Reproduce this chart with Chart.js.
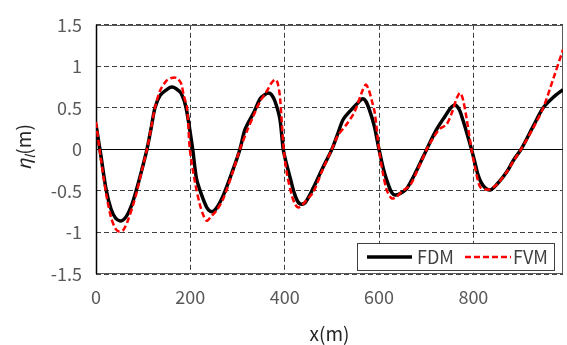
<!DOCTYPE html>
<html><head><meta charset="utf-8">
<script src="https://cdn.jsdelivr.net/npm/chart.js@4.4.1/dist/chart.umd.min.js"></script>
<style>html,body{margin:0;padding:0;background:#fff}#wrap{width:567px;height:345px;position:relative}</style>
</head><body><div id="wrap"><canvas id="c" width="567" height="345"></canvas></div>
<script>
const xFDM=[0,5,10,22,32,42,54,65,75,85,97,108,117,125,136,150,160,170,181,191,205,213,224,235,245,255,270,290,305,316,335,348,358,365,372,380,390,397,405,412,420,428,436,445,461,480,500,512,524,540,555,565,572,580,590,600,610,620,627,634,645,659,680,701,722,740,752,761,770,778,786,796,803,810,820,835,850,871,885,901,927,948,970,990];
const yFDM=[0.30,0.12,-0.06,-0.50,-0.72,-0.83,-0.86,-0.80,-0.68,-0.50,-0.25,0,0.26,0.50,0.65,0.72,0.75,0.73,0.67,0.50,0,-0.35,-0.55,-0.70,-0.75,-0.71,-0.55,-0.25,0,0.24,0.45,0.61,0.66,0.68,0.66,0.57,0.36,0,-0.20,-0.35,-0.52,-0.63,-0.66,-0.63,-0.46,-0.23,0,0.18,0.36,0.47,0.56,0.61,0.58,0.47,0.28,0,-0.25,-0.43,-0.52,-0.55,-0.53,-0.47,-0.25,0,0.24,0.40,0.50,0.535,0.48,0.35,0.20,0,-0.15,-0.31,-0.43,-0.49,-0.42,-0.27,-0.13,0,0.28,0.50,0.63,0.72];
const xFVM=[0,10,22,32,42,50,58,68,78,87,97,108,117,125,136,150,160,171,180,186,193,199,210,220,228,235,245,255,270,290,305,320,335,348,362,372,380,385,390,398,405,415,422,429,437,448,461,480,500,512,531,545,553,563,572,578,585,591,600,608,617,627,637,650,666,680,701,715,729,743,755,765,772,778,786,796,803,814,825,835,850,871,885,901,927,948,970,990];
const yFVM=[0.33,-0.10,-0.55,-0.82,-0.96,-0.99,-0.97,-0.85,-0.68,-0.50,-0.26,0,0.26,0.50,0.71,0.83,0.86,0.86,0.80,0.65,0.50,0,-0.40,-0.66,-0.80,-0.86,-0.80,-0.74,-0.59,-0.27,0,0.22,0.42,0.58,0.70,0.80,0.84,0.80,0.63,0,-0.30,-0.55,-0.66,-0.70,-0.67,-0.60,-0.51,-0.25,0,0.16,0.30,0.42,0.52,0.68,0.78,0.72,0.58,0.44,0,-0.28,-0.50,-0.59,-0.57,-0.50,-0.43,-0.27,0,0.14,0.25,0.30,0.45,0.62,0.68,0.60,0.36,0,-0.20,-0.45,-0.48,-0.48,-0.42,-0.27,-0.14,0,0.26,0.50,0.86,1.20];
const xTicks=[0,200,400,600,800];
const yTicks=[-1.5,-1,-0.5,0,0.5,1,1.5];
const seriesNames=['FDM','FVM'];
const xTitle='x(m)';
const yTitleParts=['η','l','(m)'];

const FONT='"Noto Sans CJK JP","Noto Sans",sans-serif';
const toPts=(xs,ys)=>xs.map((x,i)=>({x:x,y:ys[i]}));

const framePlugin={
  id:'frame',
  beforeDatasetsDraw(chart){
    const {ctx,chartArea:a,scales}=chart;
    ctx.save();
    ctx.strokeStyle='#595959';ctx.lineWidth=1;ctx.setLineDash([]);
    ctx.strokeRect(Math.round(a.left)+0.5,Math.round(a.top)+0.5,Math.round(a.right-a.left)-1,Math.round(a.bottom-a.top)-1);
    const y0=Math.round(scales.y.getPixelForValue(0))+0.5;
    ctx.strokeStyle='#000';ctx.lineWidth=1;
    ctx.beginPath();ctx.moveTo(a.left,y0);ctx.lineTo(a.right,y0);ctx.stroke();
    ctx.lineWidth=1.5;
    ctx.beginPath();ctx.moveTo(a.left+0.5,a.top);ctx.lineTo(a.left+0.5,a.bottom);ctx.stroke();
    ctx.restore();
  },
  afterDraw(chart){
    const ctx=chart.ctx;
    ctx.save();
    // legend
    const lx=357.5,ly=243.5,lw=197,lh=27,cy=257;
    ctx.fillStyle='#fff';ctx.fillRect(lx,ly,lw,lh);
    ctx.strokeStyle='#404040';ctx.lineWidth=1;ctx.strokeRect(lx,ly,lw,lh);
    ctx.strokeStyle='#000';ctx.lineWidth=3.5;
    ctx.beginPath();ctx.moveTo(367,cy);ctx.lineTo(412,cy);ctx.stroke();
    ctx.strokeStyle='#ff0000';ctx.lineWidth=2.5;ctx.setLineDash([6,3]);
    ctx.beginPath();ctx.moveTo(465,cy);ctx.lineTo(511,cy);ctx.stroke();
    ctx.setLineDash([]);
    ctx.fillStyle='#404040';ctx.font='18px '+FONT;ctx.textBaseline='middle';ctx.textAlign='left';
    ctx.fillText(seriesNames[0],417,cy+0.5);
    ctx.fillText(seriesNames[1],513,cy+0.5);
    // y title
    ctx.translate(25,147.5);ctx.rotate(-Math.PI/2);
    ctx.textBaseline='alphabetic';ctx.fillStyle='#262626';
    const f1='italic 19px '+FONT,f2='italic 13px '+FONT,f3='19px '+FONT;
    ctx.font=f1;const w1=ctx.measureText(yTitleParts[0]).width;
    ctx.font=f2;const w2=ctx.measureText(yTitleParts[1]).width;
    ctx.font=f3;const w3=ctx.measureText(yTitleParts[2]).width;
    let x=-(w1+w2+w3)/2;const base=6;
    ctx.font=f1;ctx.fillText(yTitleParts[0],x,base);x+=w1;
    ctx.font=f2;ctx.fillText(yTitleParts[1],x,base+4);x+=w2+0.5;
    ctx.font=f3;ctx.fillText(yTitleParts[2],x,base);
    ctx.restore();
  }
};

new Chart(document.getElementById('c'),{
  type:'line',
  data:{datasets:[
    {label:seriesNames[0],data:toPts(xFDM,yFDM),borderColor:'#000',borderWidth:3.5,pointRadius:0,tension:0.3,fill:false,order:1},
    {label:seriesNames[1],data:toPts(xFVM,yFVM),borderColor:'#ff0000',borderWidth:2.5,borderDash:[6,3],pointRadius:0,tension:0.3,fill:false,order:0}
  ]},
  options:{
    responsive:false,animation:false,devicePixelRatio:1,
    layout:{padding:{top:21,right:4,bottom:0,left:0}},
    plugins:{legend:{display:false},tooltip:{enabled:false}},
    scales:{
      x:{type:'linear',min:0,max:990,
        afterBuildTicks:s=>{s.ticks=xTicks.map(v=>({value:v}));},
        afterFit:s=>{s.height=71;},
        ticks:{font:{family:FONT,size:18},color:'#595959',padding:12,maxRotation:0,autoSkip:false,callback:v=>String(v)},
        grid:{color:c=>(c.tick&&c.tick.value===0)?'rgba(0,0,0,0)':'#404040',lineWidth:1,drawTicks:false},
        border:{display:false,dash:[5,3]},
        title:{display:true,text:xTitle,font:{family:FONT,size:19},color:'#262626',padding:{top:0,bottom:0}}
      },
      y:{type:'linear',min:-1.5,max:1.5,
        afterBuildTicks:s=>{s.ticks=yTicks.map(v=>({value:v}));},
        afterFit:s=>{s.width=96;},
        ticks:{font:{family:FONT,size:18},color:'#595959',padding:14,callback:v=>String(v)},
        grid:{color:c=>(c.tick&&c.tick.value===0)?'rgba(0,0,0,0)':'#404040',lineWidth:1,drawTicks:false},
        border:{display:false,dash:[5,3]}
      }
    }
  },
  plugins:[framePlugin]
});
</script></body></html>
